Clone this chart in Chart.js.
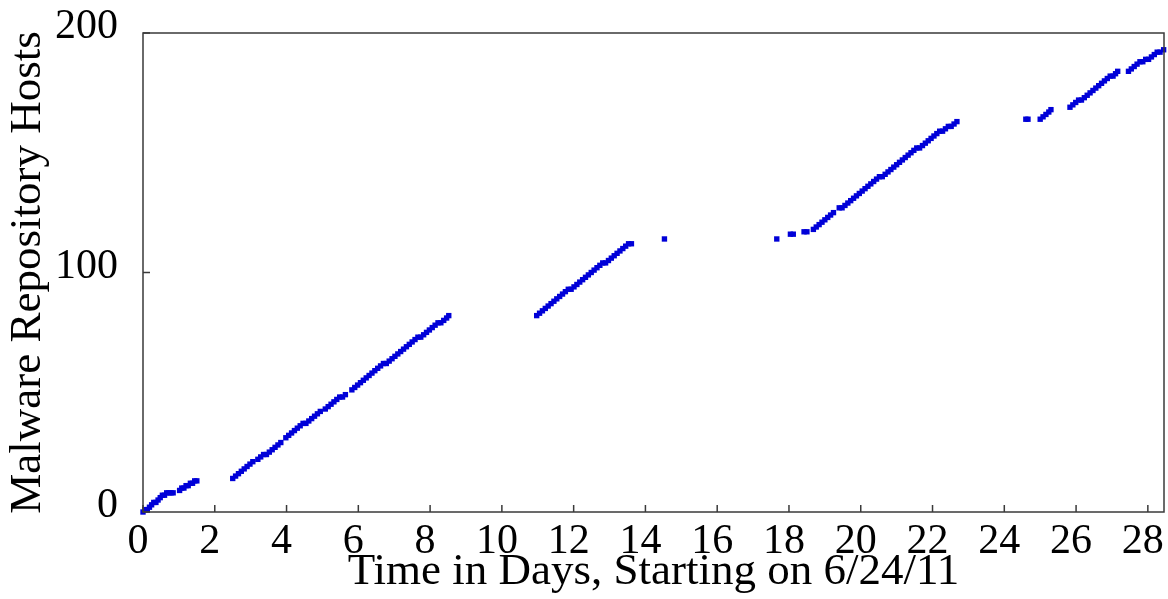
<!DOCTYPE html>
<html>
<head>
<meta charset="utf-8">
<script src="https://cdn.jsdelivr.net/npm/chart.js@4.4.0/dist/chart.umd.min.js"></script>
<style>
  html, body { margin: 0; padding: 0; background: #ffffff; }
  #wrap { width: 1168px; height: 599px; }
</style>
</head>
<body>
<div id="wrap"><canvas id="c" width="1168" height="599"></canvas></div>
<script>
// Time (days since 6/24/11) of each observation
const days = [
  0.00,0.06,0.12,0.18,0.24,0.30,0.36,0.42,0.48,0.54,0.60,0.66,0.72,0.78,0.84,
  1.02,1.08,1.14,1.20,1.26,1.32,1.38,1.44,1.50,
  2.50,2.58,2.66,2.74,2.82,2.90,2.98,3.06,
  3.20,3.28,3.36,3.44,3.52,3.60,3.68,3.76,3.84,
  3.98,4.06,4.14,4.22,4.30,4.38,4.46,4.54,4.62,4.70,4.78,4.86,4.94,
  5.08,5.16,5.24,5.32,5.40,5.48,5.56,5.64,
  5.82,5.90,5.98,6.06,6.14,6.22,6.30,6.38,6.46,6.54,6.62,6.70,6.78,6.86,6.94,
  7.02,7.10,7.18,7.26,7.34,7.42,7.50,7.58,7.66,7.74,7.82,7.90,7.98,
  8.06,8.14,8.22,8.30,8.38,8.46,8.52,
  10.97,11.05,11.13,11.21,11.29,11.37,11.45,11.53,11.61,11.69,11.77,11.85,11.93,
  12.01,12.09,12.17,12.25,12.33,12.41,12.49,12.57,12.65,12.73,12.81,12.89,12.97,
  13.05,13.13,13.21,13.29,13.37,13.45,13.53,13.61,
  14.53,
  17.66,18.04,18.12,18.42,18.50,18.68,18.76,18.84,18.92,19.00,19.08,19.16,19.24,
  19.40,19.48,19.56,19.64,19.72,19.80,19.88,19.96,20.04,20.12,20.20,20.28,20.36,
  20.44,20.52,20.60,20.68,20.76,20.84,20.92,21.00,21.08,21.16,21.24,21.32,21.40,
  21.48,21.56,21.64,21.72,21.80,21.88,21.96,22.04,22.12,22.20,22.28,22.36,22.44,
  22.52,22.60,22.68,
  24.60,24.66,25.00,25.08,25.16,25.24,25.30,
  25.83,25.91,25.99,26.07,26.15,26.23,26.31,26.39,26.47,26.55,26.63,26.71,26.79,
  26.87,26.95,27.03,27.10,27.16,
  27.46,27.54,27.62,27.70,27.78,27.86,27.94,28.02,28.10,28.18,28.26,28.34,28.44
];
// Cumulative count of malware repository hosts at each observation
const hosts = [
  0,1,1,2,3,4,4,5,6,7,7,8,8,8,8,
  9,10,10,11,11,12,12,13,13,
  14,15,16,17,18,19,20,21,
  22,23,24,24,25,26,27,28,29,
  31,32,33,34,35,36,37,37,38,39,40,41,42,
  43,44,45,46,47,48,48,49,
  51,52,53,54,55,56,57,58,59,60,61,62,62,63,64,
  65,66,67,68,69,70,71,72,73,73,74,75,76,
  77,78,79,79,80,81,82,
  82,83,84,85,86,87,88,89,90,91,92,93,93,
  94,95,96,97,98,99,100,101,102,103,104,104,105,
  106,107,108,109,110,111,112,112,
  114,
  114,116,116,117,117,118,119,120,121,122,123,124,125,
  127,127,128,129,130,131,132,133,134,135,136,137,138,
  139,140,140,141,142,143,144,145,146,147,148,149,150,
  151,152,152,153,154,155,156,157,158,159,159,160,161,
  161,162,163,
  164,164,164,165,166,167,168,
  169,170,171,172,172,173,174,175,176,177,178,179,180,
  181,182,182,183,184,
  184,185,186,187,188,188,189,189,190,191,192,192,193
];
const xTicks = [0,2,4,6,8,10,12,14,16,18,20,22,24,26,28];
const yTicks = [0,100,200];
const xTitle = 'Time in Days, Starting on 6/24/11';
const yTitle = 'Malware Repository Hosts';

const points = days.map((d, i) => ({ x: d, y: hosts[i] }));

const FONT = 'Liberation Serif, Times New Roman, serif';
const PLOT_LEFT = 143, PLOT_TOP = 33, PLOT_RIGHT = 1164, PLOT_BOTTOM = 512;

const frame = {
  id: 'frame',
  afterDatasetsDraw(chart) {
    const { ctx, chartArea: a, scales } = chart;
    ctx.save();
    ctx.strokeStyle = '#3a3a3a';
    ctx.lineWidth = 1.5;
    ctx.strokeRect(a.left, a.top, a.right - a.left, a.bottom - a.top);
    ctx.beginPath();
    scales.x.ticks.forEach(t => {
      const px = scales.x.getPixelForValue(t.value);
      ctx.moveTo(px, a.bottom);
      ctx.lineTo(px, a.bottom - 7);
    });
    scales.y.ticks.forEach(t => {
      const py = scales.y.getPixelForValue(t.value);
      ctx.moveTo(a.left, py);
      ctx.lineTo(a.left + 7, py);
    });
    ctx.stroke();
    ctx.restore();
  }
};

new Chart(document.getElementById('c'), {
  type: 'scatter',
  data: {
    datasets: [{
      data: points,
      pointStyle: 'rect',
      pointRadius: 3.8,
      pointHoverRadius: 3.8,
      backgroundColor: '#0000d8',
      borderWidth: 0,
      clip: false
    }]
  },
  options: {
    responsive: false,
    animation: false,
    events: [],
    layout: { padding: { left: 0, right: 1168 - PLOT_RIGHT, top: PLOT_TOP, bottom: 0 } },
    plugins: { legend: { display: false }, tooltip: { enabled: false } },
    scales: {
      x: {
        type: 'linear',
        min: 0,
        max: 28.45,
        afterBuildTicks(scale) { scale.ticks = xTicks.map(v => ({ value: v })); },
        afterFit(scale) { scale.height = 599 - PLOT_BOTTOM; scale.paddingLeft = 0; scale.paddingRight = 0; },
        grid: { display: false },
        border: { display: false },
        ticks: {
          color: '#000',
          font: { family: FONT, size: 42 },
          padding: -3,
          labelOffset: -5,
          maxRotation: 0,
          autoSkip: false
        },
        title: {
          display: true,
          text: xTitle,
          color: '#000',
          font: { family: FONT, size: 45 },
          padding: { top: 0, bottom: 0 }
        }
      },
      y: {
        type: 'linear',
        min: 0,
        max: 200,
        afterBuildTicks(scale) { scale.ticks = yTicks.map(v => ({ value: v })); },
        afterFit(scale) { scale.width = PLOT_LEFT; scale.paddingTop = 0; scale.paddingBottom = 0; },
        grid: { display: false },
        border: { display: false },
        ticks: {
          color: '#000',
          font: { family: FONT, size: 42 },
          padding: 17,
          labelOffset: -6
        },
        title: {
          display: true,
          text: yTitle,
          color: '#000',
          font: { family: FONT, size: 45 },
          padding: { top: 1, bottom: 0 }
        }
      }
    }
  },
  plugins: [frame]
});
</script>
</body>
</html>
